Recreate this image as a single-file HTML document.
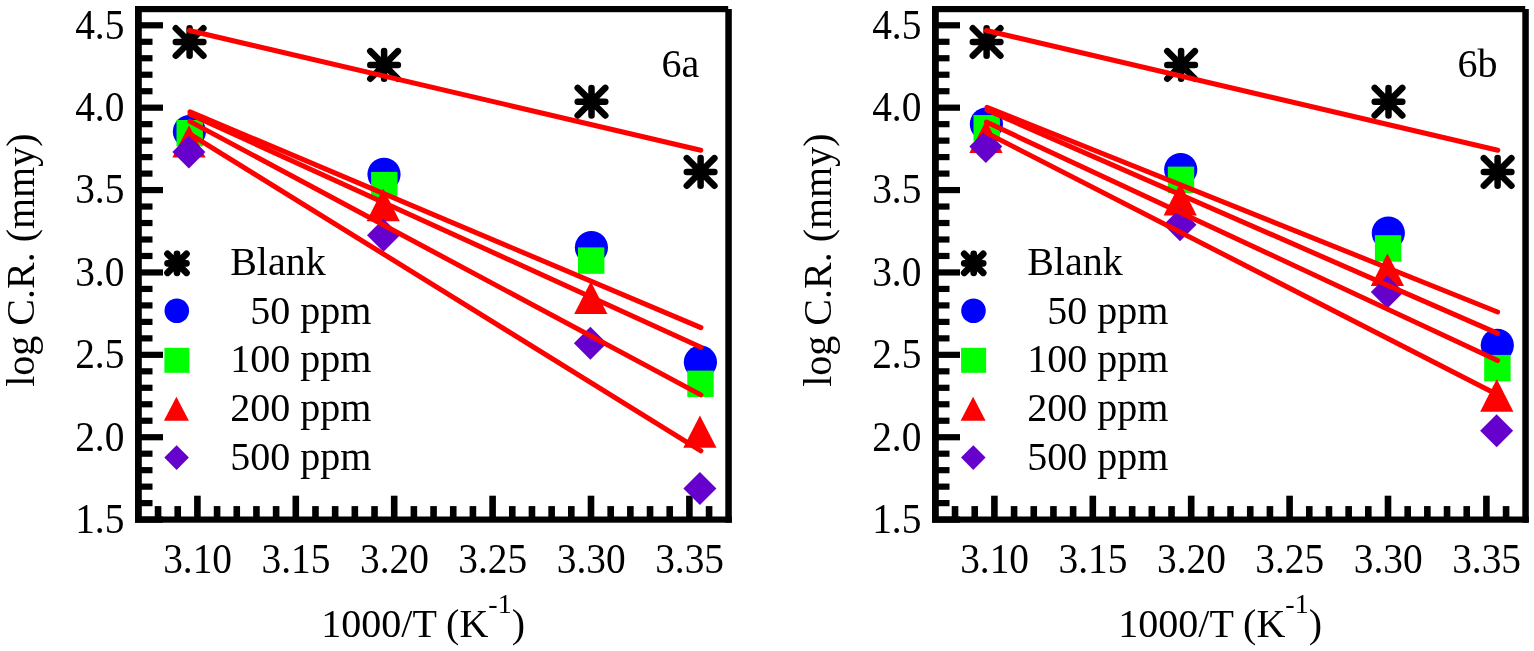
<!DOCTYPE html>
<html lang="en"><head><meta charset="utf-8"><title>Arrhenius plots 6a / 6b</title>
<style>html,body{margin:0;padding:0;background:#fff}body{width:1534px;height:651px;overflow:hidden}svg{display:block}</style>
</head><body>
<svg width="1534" height="651" viewBox="0 0 1534 651">
<rect width="1534" height="651" fill="#fff"/>
<g fill="#000"><rect x="141" y="22.2" width="22" height="6.2"/><rect x="141" y="38.68" width="11.5" height="6.2"/><rect x="141" y="55.15" width="11.5" height="6.2"/><rect x="141" y="71.63" width="11.5" height="6.2"/><rect x="141" y="88.11" width="11.5" height="6.2"/><rect x="141" y="104.58" width="22" height="6.2"/><rect x="141" y="121.06" width="11.5" height="6.2"/><rect x="141" y="137.54" width="11.5" height="6.2"/><rect x="141" y="154.01" width="11.5" height="6.2"/><rect x="141" y="170.49" width="11.5" height="6.2"/><rect x="141" y="186.97" width="22" height="6.2"/><rect x="141" y="203.44" width="11.5" height="6.2"/><rect x="141" y="219.92" width="11.5" height="6.2"/><rect x="141" y="236.4" width="11.5" height="6.2"/><rect x="141" y="252.87" width="11.5" height="6.2"/><rect x="141" y="269.35" width="22" height="6.2"/><rect x="141" y="285.83" width="11.5" height="6.2"/><rect x="141" y="302.3" width="11.5" height="6.2"/><rect x="141" y="318.78" width="11.5" height="6.2"/><rect x="141" y="335.26" width="11.5" height="6.2"/><rect x="141" y="351.73" width="22" height="6.2"/><rect x="141" y="368.21" width="11.5" height="6.2"/><rect x="141" y="384.69" width="11.5" height="6.2"/><rect x="141" y="401.16" width="11.5" height="6.2"/><rect x="141" y="417.64" width="11.5" height="6.2"/><rect x="141" y="434.12" width="22" height="6.2"/><rect x="141" y="450.59" width="11.5" height="6.2"/><rect x="141" y="467.07" width="11.5" height="6.2"/><rect x="141" y="483.55" width="11.5" height="6.2"/><rect x="141" y="500.02" width="11.5" height="6.2"/><rect x="141" y="516.5" width="22" height="6.2"/><rect x="154.74" y="506.1" width="6.6" height="11.4"/><rect x="174.42" y="506.1" width="6.6" height="11.4"/><rect x="194.1" y="495.7" width="6.6" height="21.8"/><rect x="213.78" y="506.1" width="6.6" height="11.4"/><rect x="233.46" y="506.1" width="6.6" height="11.4"/><rect x="253.14" y="506.1" width="6.6" height="11.4"/><rect x="272.82" y="506.1" width="6.6" height="11.4"/><rect x="292.5" y="495.7" width="6.6" height="21.8"/><rect x="312.18" y="506.1" width="6.6" height="11.4"/><rect x="331.86" y="506.1" width="6.6" height="11.4"/><rect x="351.54" y="506.1" width="6.6" height="11.4"/><rect x="371.22" y="506.1" width="6.6" height="11.4"/><rect x="390.9" y="495.7" width="6.6" height="21.8"/><rect x="410.58" y="506.1" width="6.6" height="11.4"/><rect x="430.26" y="506.1" width="6.6" height="11.4"/><rect x="449.94" y="506.1" width="6.6" height="11.4"/><rect x="469.62" y="506.1" width="6.6" height="11.4"/><rect x="489.3" y="495.7" width="6.6" height="21.8"/><rect x="508.98" y="506.1" width="6.6" height="11.4"/><rect x="528.66" y="506.1" width="6.6" height="11.4"/><rect x="548.34" y="506.1" width="6.6" height="11.4"/><rect x="568.02" y="506.1" width="6.6" height="11.4"/><rect x="587.7" y="495.7" width="6.6" height="21.8"/><rect x="607.38" y="506.1" width="6.6" height="11.4"/><rect x="627.06" y="506.1" width="6.6" height="11.4"/><rect x="646.74" y="506.1" width="6.6" height="11.4"/><rect x="666.42" y="506.1" width="6.6" height="11.4"/><rect x="686.1" y="495.7" width="6.6" height="21.8"/><rect x="705.78" y="506.1" width="6.6" height="11.4"/><rect x="135" y="6" width="6.8" height="516.7"/><rect x="135" y="6" width="593.2" height="6.2"/><rect x="135" y="516.5" width="596.8" height="6.2"/><rect x="725.3" y="9" width="6.5" height="513.7"/></g>
<path d="M175.8 42H203.4M189.6 28.2V55.8M175.8 28.2L203.4 55.8M175.8 55.8L203.4 28.2" stroke="#000" stroke-width="6.5" stroke-linecap="round" fill="none"/><path d="M370.3 64.9H397.9M384.1 51.1V78.7M370.3 51.1L397.9 78.7M370.3 78.7L397.9 51.1" stroke="#000" stroke-width="6.5" stroke-linecap="round" fill="none"/><path d="M577.7 101.7H605.3M591.5 87.9V115.5M577.7 87.9L605.3 115.5M577.7 115.5L605.3 87.9" stroke="#000" stroke-width="6.5" stroke-linecap="round" fill="none"/><path d="M686.8 171.9H714.4M700.6 158.1V185.7M686.8 158.1L714.4 185.7M686.8 185.7L714.4 158.1" stroke="#000" stroke-width="6.5" stroke-linecap="round" fill="none"/><circle cx="189.4" cy="131.5" r="16.6" fill="#0000ff"/><circle cx="384" cy="174.3" r="16.6" fill="#0000ff"/><circle cx="591.4" cy="247.5" r="16.6" fill="#0000ff"/><circle cx="700.4" cy="362.2" r="16.6" fill="#0000ff"/><rect x="176.5" y="120" width="26.4" height="26.4" fill="#00ff00"/><rect x="371.1" y="171.9" width="26.4" height="26.4" fill="#00ff00"/><rect x="578" y="247.4" width="26.4" height="26.4" fill="#00ff00"/><rect x="687.3" y="370.6" width="26.4" height="26.4" fill="#00ff00"/><path d="M189 125.3L205.6 157.4H172.4Z" fill="#ff0000"/><path d="M383.2 188.4L399.8 221.2H366.6Z" fill="#ff0000"/><path d="M590.8 281.6L607.4 313.9H574.2Z" fill="#ff0000"/><path d="M699.9 415.4L716.5 447.8H683.3Z" fill="#ff0000"/><path d="M188.9 135.4L205.4 151.9L188.9 168.4L172.4 151.9Z" fill="#6600cc"/><path d="M383.5 218.7L400 235.2L383.5 251.7L367 235.2Z" fill="#6600cc"/><path d="M590.4 326.8L606.9 343.3L590.4 359.8L573.9 343.3Z" fill="#6600cc"/><path d="M699.9 472L716.4 488.5L699.9 505L683.4 488.5Z" fill="#6600cc"/><path d="M189.4 30.5L700.8 150.2" stroke="#ff0000" stroke-width="5" stroke-linecap="round" fill="none"/><path d="M190 111.8L700.9 327.6" stroke="#ff0000" stroke-width="5" stroke-linecap="round" fill="none"/><path d="M190 114.2L700.9 347.3" stroke="#ff0000" stroke-width="5" stroke-linecap="round" fill="none"/><path d="M189.9 121.4L700.9 394.9" stroke="#ff0000" stroke-width="5" stroke-linecap="round" fill="none"/><path d="M190 134.1L700.9 450.8" stroke="#ff0000" stroke-width="5" stroke-linecap="round" fill="none"/>
<path d="M167.5 263.3H186.5M177 253.8V272.8M167.5 253.8L186.5 272.8M167.5 272.8L186.5 253.8" stroke="#000" stroke-width="6.7" stroke-linecap="round" fill="none"/><circle cx="176.8" cy="310.8" r="12.3" fill="#0000ff"/><rect x="164.4" y="347.8" width="25" height="25" fill="#00ff00"/><path d="M176.4 396.8L188.9 420.7H163.9Z" fill="#ff0000"/><path d="M176.6 445.3L188.9 457.6L176.6 469.9L164.3 457.6Z" fill="#6600cc"/>
<g font-family="'Liberation Serif', 'Times New Roman', serif" font-size="40" fill="#000"><text transform="translate(124.4 38.7) scale(0.985 1.06)" text-anchor="end">4.5</text><text transform="translate(124.4 121.08) scale(0.985 1.06)" text-anchor="end">4.0</text><text transform="translate(124.4 203.47) scale(0.985 1.06)" text-anchor="end">3.5</text><text transform="translate(124.4 285.85) scale(0.985 1.06)" text-anchor="end">3.0</text><text transform="translate(124.4 368.23) scale(0.985 1.06)" text-anchor="end">2.5</text><text transform="translate(124.4 450.62) scale(0.985 1.06)" text-anchor="end">2.0</text><text transform="translate(124.4 533) scale(0.985 1.06)" text-anchor="end">1.5</text><text transform="translate(197.6 572.8) scale(0.985 1.06)" text-anchor="middle">3.10</text><text transform="translate(296 572.8) scale(0.985 1.06)" text-anchor="middle">3.15</text><text transform="translate(394.4 572.8) scale(0.985 1.06)" text-anchor="middle">3.20</text><text transform="translate(492.8 572.8) scale(0.985 1.06)" text-anchor="middle">3.25</text><text transform="translate(591.2 572.8) scale(0.985 1.06)" text-anchor="middle">3.30</text><text transform="translate(689.6 572.8) scale(0.985 1.06)" text-anchor="middle">3.35</text><text x="321.3" y="636.8">1000/T (K<tspan font-size="28" dy="-24">-1</tspan><tspan dy="24">)</tspan></text><text transform="translate(34.4 386.8) rotate(-90)">log C.R. (mmy)</text><text x="661.4" y="76.9">6a</text><text x="230.2" y="274.8">Blank</text><text x="230.2" y="323.5">  50 ppm</text><text x="230.2" y="372.2">100 ppm</text><text x="230.2" y="420.9">200 ppm</text><text x="230.2" y="469.6">500 ppm</text></g>
<g fill="#000"><rect x="938" y="22.2" width="22" height="6.2"/><rect x="938" y="38.68" width="11.5" height="6.2"/><rect x="938" y="55.15" width="11.5" height="6.2"/><rect x="938" y="71.63" width="11.5" height="6.2"/><rect x="938" y="88.11" width="11.5" height="6.2"/><rect x="938" y="104.58" width="22" height="6.2"/><rect x="938" y="121.06" width="11.5" height="6.2"/><rect x="938" y="137.54" width="11.5" height="6.2"/><rect x="938" y="154.01" width="11.5" height="6.2"/><rect x="938" y="170.49" width="11.5" height="6.2"/><rect x="938" y="186.97" width="22" height="6.2"/><rect x="938" y="203.44" width="11.5" height="6.2"/><rect x="938" y="219.92" width="11.5" height="6.2"/><rect x="938" y="236.4" width="11.5" height="6.2"/><rect x="938" y="252.87" width="11.5" height="6.2"/><rect x="938" y="269.35" width="22" height="6.2"/><rect x="938" y="285.83" width="11.5" height="6.2"/><rect x="938" y="302.3" width="11.5" height="6.2"/><rect x="938" y="318.78" width="11.5" height="6.2"/><rect x="938" y="335.26" width="11.5" height="6.2"/><rect x="938" y="351.73" width="22" height="6.2"/><rect x="938" y="368.21" width="11.5" height="6.2"/><rect x="938" y="384.69" width="11.5" height="6.2"/><rect x="938" y="401.16" width="11.5" height="6.2"/><rect x="938" y="417.64" width="11.5" height="6.2"/><rect x="938" y="434.12" width="22" height="6.2"/><rect x="938" y="450.59" width="11.5" height="6.2"/><rect x="938" y="467.07" width="11.5" height="6.2"/><rect x="938" y="483.55" width="11.5" height="6.2"/><rect x="938" y="500.02" width="11.5" height="6.2"/><rect x="938" y="516.5" width="22" height="6.2"/><rect x="951.74" y="506.1" width="6.6" height="11.4"/><rect x="971.42" y="506.1" width="6.6" height="11.4"/><rect x="991.1" y="495.7" width="6.6" height="21.8"/><rect x="1010.78" y="506.1" width="6.6" height="11.4"/><rect x="1030.46" y="506.1" width="6.6" height="11.4"/><rect x="1050.14" y="506.1" width="6.6" height="11.4"/><rect x="1069.82" y="506.1" width="6.6" height="11.4"/><rect x="1089.5" y="495.7" width="6.6" height="21.8"/><rect x="1109.18" y="506.1" width="6.6" height="11.4"/><rect x="1128.86" y="506.1" width="6.6" height="11.4"/><rect x="1148.54" y="506.1" width="6.6" height="11.4"/><rect x="1168.22" y="506.1" width="6.6" height="11.4"/><rect x="1187.9" y="495.7" width="6.6" height="21.8"/><rect x="1207.58" y="506.1" width="6.6" height="11.4"/><rect x="1227.26" y="506.1" width="6.6" height="11.4"/><rect x="1246.94" y="506.1" width="6.6" height="11.4"/><rect x="1266.62" y="506.1" width="6.6" height="11.4"/><rect x="1286.3" y="495.7" width="6.6" height="21.8"/><rect x="1305.98" y="506.1" width="6.6" height="11.4"/><rect x="1325.66" y="506.1" width="6.6" height="11.4"/><rect x="1345.34" y="506.1" width="6.6" height="11.4"/><rect x="1365.02" y="506.1" width="6.6" height="11.4"/><rect x="1384.7" y="495.7" width="6.6" height="21.8"/><rect x="1404.38" y="506.1" width="6.6" height="11.4"/><rect x="1424.06" y="506.1" width="6.6" height="11.4"/><rect x="1443.74" y="506.1" width="6.6" height="11.4"/><rect x="1463.42" y="506.1" width="6.6" height="11.4"/><rect x="1483.1" y="495.7" width="6.6" height="21.8"/><rect x="1502.78" y="506.1" width="6.6" height="11.4"/><rect x="932" y="6" width="6.8" height="516.7"/><rect x="932" y="6" width="593.2" height="6.2"/><rect x="932" y="516.5" width="596.8" height="6.2"/><rect x="1522.3" y="9" width="6.5" height="513.7"/></g>
<path d="M972.8 42H1000.4M986.6 28.2V55.8M972.8 28.2L1000.4 55.8M972.8 55.8L1000.4 28.2" stroke="#000" stroke-width="6.5" stroke-linecap="round" fill="none"/><path d="M1167.3 64.9H1194.9M1181.1 51.1V78.7M1167.3 51.1L1194.9 78.7M1167.3 78.7L1194.9 51.1" stroke="#000" stroke-width="6.5" stroke-linecap="round" fill="none"/><path d="M1374.7 101.7H1402.3M1388.5 87.9V115.5M1374.7 87.9L1402.3 115.5M1374.7 115.5L1402.3 87.9" stroke="#000" stroke-width="6.5" stroke-linecap="round" fill="none"/><path d="M1483.8 171.9H1511.4M1497.6 158.1V185.7M1483.8 158.1L1511.4 185.7M1483.8 185.7L1511.4 158.1" stroke="#000" stroke-width="6.5" stroke-linecap="round" fill="none"/><circle cx="986.4" cy="124.1" r="16.6" fill="#0000ff"/><circle cx="1180.7" cy="169.5" r="16.6" fill="#0000ff"/><circle cx="1388.3" cy="233.1" r="16.6" fill="#0000ff"/><circle cx="1497.3" cy="345.3" r="16.6" fill="#0000ff"/><rect x="973.5" y="115" width="26.4" height="26.4" fill="#00ff00"/><rect x="1167.8" y="166.6" width="26.4" height="26.4" fill="#00ff00"/><rect x="1374.9" y="235.2" width="26.4" height="26.4" fill="#00ff00"/><rect x="1484.2" y="354.9" width="26.4" height="26.4" fill="#00ff00"/><path d="M986 120.4L1002.6 152.9H969.4Z" fill="#ff0000"/><path d="M1180.2 182.9L1196.8 215.4H1163.6Z" fill="#ff0000"/><path d="M1387.4 253.3L1404 286.1H1370.8Z" fill="#ff0000"/><path d="M1496.8 378.9L1513.4 411.7H1480.2Z" fill="#ff0000"/><path d="M985.8 130.1L1002.3 146.6L985.8 163.1L969.3 146.6Z" fill="#6600cc"/><path d="M1180 208.3L1196.5 224.8L1180 241.3L1163.5 224.8Z" fill="#6600cc"/><path d="M1387.3 275.4L1403.8 291.9L1387.3 308.4L1370.8 291.9Z" fill="#6600cc"/><path d="M1496.6 414.2L1513.1 430.7L1496.6 447.2L1480.1 430.7Z" fill="#6600cc"/><path d="M986.4 30.5L1497.8 150.2" stroke="#ff0000" stroke-width="5" stroke-linecap="round" fill="none"/><path d="M987 107.3L1497.6 312" stroke="#ff0000" stroke-width="5" stroke-linecap="round" fill="none"/><path d="M987 110L1497.6 333.4" stroke="#ff0000" stroke-width="5" stroke-linecap="round" fill="none"/><path d="M986.4 122.1L1497.6 360.5" stroke="#ff0000" stroke-width="5" stroke-linecap="round" fill="none"/><path d="M986.6 132.9L1497.6 394.8" stroke="#ff0000" stroke-width="5" stroke-linecap="round" fill="none"/>
<path d="M964.2 263.3H983.2M973.7 253.8V272.8M964.2 253.8L983.2 272.8M964.2 272.8L983.2 253.8" stroke="#000" stroke-width="6.7" stroke-linecap="round" fill="none"/><circle cx="973.5" cy="310.8" r="12.3" fill="#0000ff"/><rect x="961.1" y="347.8" width="25" height="25" fill="#00ff00"/><path d="M973.1 396.8L985.6 420.7H960.6Z" fill="#ff0000"/><path d="M973.3 445.3L985.6 457.6L973.3 469.9L961 457.6Z" fill="#6600cc"/>
<g font-family="'Liberation Serif', 'Times New Roman', serif" font-size="40" fill="#000"><text transform="translate(921.4 38.7) scale(0.985 1.06)" text-anchor="end">4.5</text><text transform="translate(921.4 121.08) scale(0.985 1.06)" text-anchor="end">4.0</text><text transform="translate(921.4 203.47) scale(0.985 1.06)" text-anchor="end">3.5</text><text transform="translate(921.4 285.85) scale(0.985 1.06)" text-anchor="end">3.0</text><text transform="translate(921.4 368.23) scale(0.985 1.06)" text-anchor="end">2.5</text><text transform="translate(921.4 450.62) scale(0.985 1.06)" text-anchor="end">2.0</text><text transform="translate(921.4 533) scale(0.985 1.06)" text-anchor="end">1.5</text><text transform="translate(994.6 572.8) scale(0.985 1.06)" text-anchor="middle">3.10</text><text transform="translate(1093 572.8) scale(0.985 1.06)" text-anchor="middle">3.15</text><text transform="translate(1191.4 572.8) scale(0.985 1.06)" text-anchor="middle">3.20</text><text transform="translate(1289.8 572.8) scale(0.985 1.06)" text-anchor="middle">3.25</text><text transform="translate(1388.2 572.8) scale(0.985 1.06)" text-anchor="middle">3.30</text><text transform="translate(1486.6 572.8) scale(0.985 1.06)" text-anchor="middle">3.35</text><text x="1118.3" y="636.8">1000/T (K<tspan font-size="28" dy="-24">-1</tspan><tspan dy="24">)</tspan></text><text transform="translate(831.4 386.8) rotate(-90)">log C.R. (mmy)</text><text x="1457.4" y="76.9">6b</text><text x="1027.2" y="274.8">Blank</text><text x="1027.2" y="323.5">  50 ppm</text><text x="1027.2" y="372.2">100 ppm</text><text x="1027.2" y="420.9">200 ppm</text><text x="1027.2" y="469.6">500 ppm</text></g>
</svg>
</body></html>
